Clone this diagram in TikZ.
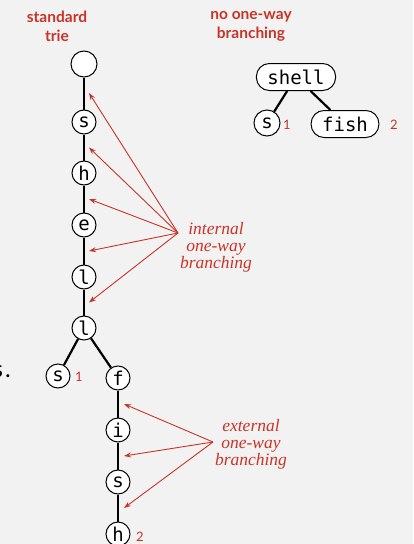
\documentclass[tikz,border=0pt]{standalone}
\usepackage{fontspec}
\setmainfont{Liberation Serif}
\setsansfont{Lato}
\setmonofont{DejaVu Sans Mono}
\usetikzlibrary{arrows.meta,calc}
\definecolor{trieRed}{RGB}{200,52,40}
\definecolor{slideGray}{RGB}{242,242,242}

\begin{document}
\begin{tikzpicture}[x=1pt, y=-1pt,
    letter/.style={circle, draw, line width=1pt, fill=white, inner sep=0pt, minimum size=24pt,
        font=\ttfamily\fontsize{19}{19}\selectfont},
    word/.style={draw, line width=1pt, fill=white, rounded corners=13pt, minimum height=27pt,
        inner xsep=11pt, inner ysep=0pt, font=\ttfamily\fontsize{19}{19}\selectfont},
    link/.style={line width=2.2pt},
    num/.style={text=trieRed, font=\sffamily\fontsize{13}{13}\selectfont, anchor=west, inner sep=0pt},
    title/.style={text=trieRed, align=center, font=\sffamily\bfseries\fontsize{15.5}{19}\selectfont},
    remark/.style={text=trieRed, align=center, font=\itshape\fontsize{17.5}{17}\selectfont},
    pointer/.style={draw=trieRed, line width=0.9pt, -{Stealth[length=7pt, width=5pt]}}]

    % Slide background
    \clip (0,0) rectangle (413,544);
    \fill[slideGray] (0,0) rectangle (413,544);
    \node[anchor=base east, inner sep=0pt, font=\sffamily\fontsize{24}{24}\selectfont] (cut) at (11,377) {s\kern2pt.};

    % Headings
    \node[title] (stdTitle) at (57,26) {standard\\trie};
    \node[title] (oneTitle) at (251,26) {no one-way\\branching};

    % Standard trie
    \node[letter, minimum size=26pt] (root) at (84,64) {};
    \node[letter] (s1) at (84,122) {s};
    \node[letter] (h1) at (84,173) {h};
    \node[letter] (e1) at (84,225) {e};
    \node[letter] (l1) at (84,277) {l};
    \node[letter] (l2) at (84,328) {l};
    \node[letter] (s2) at (58,376) {s};
    \node[letter] (f1) at (118,378) {f};
    \node[letter] (i1) at (118,430) {i};
    \node[letter] (s3) at (118,482) {s};
    \node[letter] (h2) at (118,534) {h};

    \draw[link] (root) -- (s1);
    \draw[link] (s1) -- (h1);
    \draw[link] (h1) -- (e1);
    \draw[link] (e1) -- (l1);
    \draw[link] (l1) -- (l2);
    \draw[link] (l2) -- (s2);
    \draw[link] (l2) -- (f1);
    \draw[link] (f1) -- (i1);
    \draw[link] (i1) -- (s3);
    \draw[link] (s3) -- (h2);

    \node[num] (v1) at (75,377) {1};
    \node[num] (v2) at (136,537) {2};

    % Collapsed trie
    \node[word] (shell) at (296,77) {shell};
    \node[letter, minimum size=26pt] (sr) at (267,123) {s};
    \node[word] (fish) at (345,124) {fish};

    \draw[link] (shell) -- (sr);
    \draw[link] (shell) -- (fish);

    \node[num] (v3) at (283,125) {1};
    \node[num] (v4) at (390,125) {2};

    % Internal one-way branching
    \node[remark] (intNote) at (216,247) {internal\\one-way\\branching};
    \coordinate (intSrc) at (178,233);
    \foreach \a/\b in {root/s1, s1/h1, h1/e1, e1/l1, l1/l2}
        \draw[pointer] (intSrc) -- ($(\a)!.5!(\b)+(5,0)$);

    % External one-way branching
    \node[remark] (extNote) at (251,444) {external\\one-way\\branching};
    \coordinate (extSrc) at (213,442);
    \foreach \a/\b in {f1/i1, i1/s3, s3/h2}
        \draw[pointer] (extSrc) -- ($(\a)!.5!(\b)+(6,0)$);
\end{tikzpicture}
\end{document}
